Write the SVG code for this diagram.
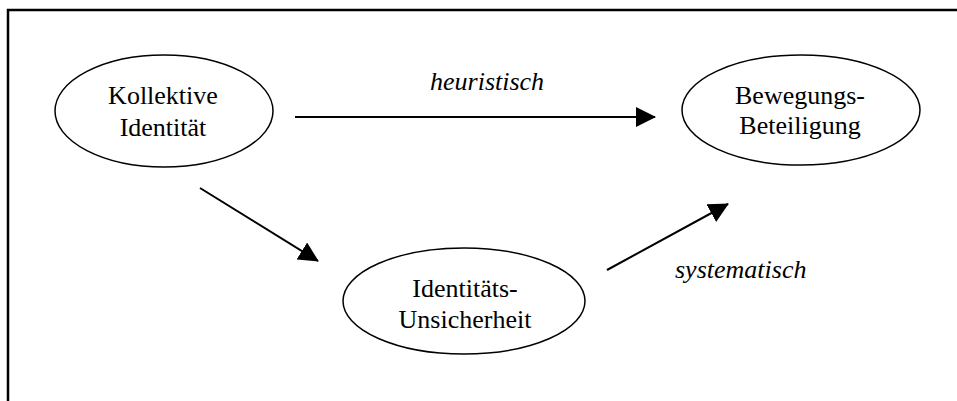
<svg xmlns="http://www.w3.org/2000/svg" width="957" height="401" viewBox="0 0 957 401">
<defs>
<style>
.node ellipse{fill:#fff;stroke:#000;stroke-width:1.5}
.t{font-family:"Liberation Serif","Times New Roman",serif;font-size:26px;fill:#000;text-anchor:middle}
.lbl{font-family:"Liberation Serif","Times New Roman",serif;font-size:26px;font-style:italic;fill:#000}
.edge{stroke:#000;stroke-width:2;fill:none;marker-end:url(#ah)}
</style>
<marker id="ah" viewBox="0 0 20 20" refX="19" refY="10" markerWidth="20" markerHeight="20" markerUnits="userSpaceOnUse" orient="auto">
<path d="M0,0 L20,10 L0,20 Z" fill="#000"/>
</marker>
</defs>
<rect width="957" height="401" fill="#fff"/>
<path d="M8,401 V10 H957" stroke="#000" stroke-width="2.5" fill="none"/>
<g id="kollektive" class="node">
<ellipse cx="164" cy="111" rx="109" ry="56"/>
<text class="t" x="163" y="104">Kollektive</text>
<text class="t" x="163" y="136">Identität</text>
</g>
<g id="bewegung" class="node">
<ellipse cx="801" cy="110" rx="119" ry="55"/>
<text class="t" x="800" y="104">Bewegungs-</text>
<text class="t" x="800" y="134">Beteiligung</text>
</g>
<g id="unsicherheit" class="node">
<ellipse cx="464" cy="301" rx="121" ry="53"/>
<text class="t" x="465" y="297">Identitäts-</text>
<text class="t" x="465" y="328">Unsicherheit</text>
</g>
<g id="connectors">
<line class="edge" x1="295" y1="117" x2="655" y2="117"/>
<line class="edge" x1="200" y1="188" x2="318" y2="261"/>
<line class="edge" x1="607" y1="270" x2="728" y2="204"/>
<text class="lbl" x="430" y="90">heuristisch</text>
<text class="lbl" x="675" y="278">systematisch</text>
</g>
</svg>
